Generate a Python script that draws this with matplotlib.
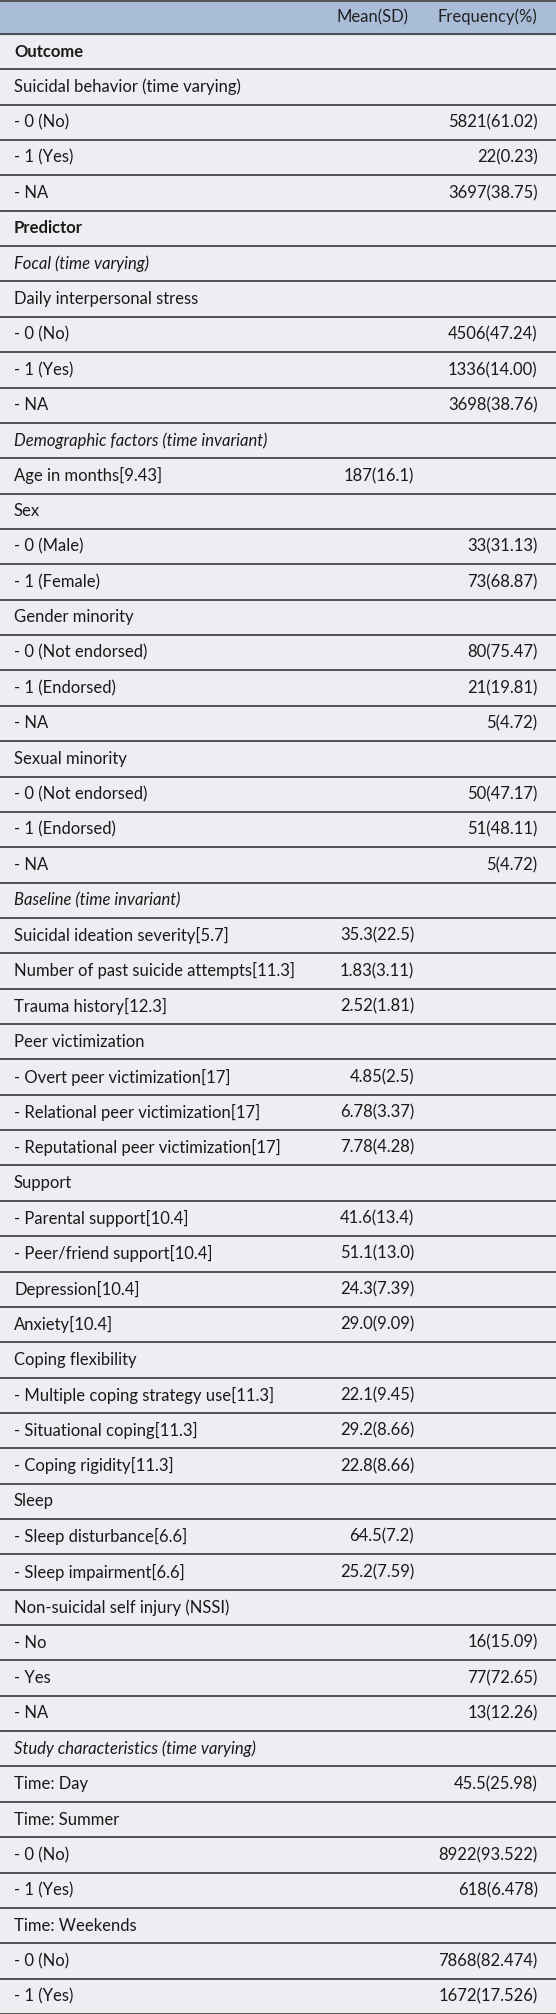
import matplotlib
matplotlib.use("Agg")
import matplotlib.pyplot as plt

labels = ["Outcome","Suicidal behavior (time varying)","- 0 (No)","- 1 (Yes)","- NA",
"Predictor","Focal (time varying)","Daily interpersonal stress","- 0 (No)","- 1 (Yes)","- NA",
"Demographic factors (time invariant)","Age in months[9.43]","Sex","- 0 (Male)","- 1 (Female)",
"Gender minority","- 0 (Not endorsed)","- 1 (Endorsed)","- NA",
"Sexual minority","- 0 (Not endorsed)","- 1 (Endorsed)","- NA",
"Baseline (time invariant)","Suicidal ideation severity[5.7]","Number of past suicide attempts[11.3]",
"Trauma history[12.3]","Peer victimization","- Overt peer victimization[17]",
"- Relational peer victimization[17]","- Reputational peer victimization[17]",
"Support","- Parental support[10.4]","- Peer/friend support[10.4]","Depression[10.4]","Anxiety[10.4]",
"Coping flexibility","- Multiple coping strategy use[11.3]","- Situational coping[11.3]","- Coping rigidity[11.3]",
"Sleep","- Sleep disturbance[6.6]","- Sleep impairment[6.6]",
"Non-suicidal self injury (NSSI)","- No","- Yes","- NA",
"Study characteristics (time varying)","Time: Day","Time: Summer","- 0 (No)","- 1 (Yes)",
"Time: Weekends","- 0 (No)","- 1 (Yes)"]
mean_sd = ["","","","","","","","","","","","","187(16.1)","","","","","","","","","","","",
"","35.3(22.5)","1.83(3.11)","2.52(1.81)","","4.85(2.5)","6.78(3.37)","7.78(4.28)",
"","41.6(13.4)","51.1(13.0)","24.3(7.39)","29.0(9.09)","","22.1(9.45)","29.2(8.66)","22.8(8.66)",
"","64.5(7.2)","25.2(7.59)","","","","","","","","","","","",""]
freq = ["","","5821(61.02)","22(0.23)","3697(38.75)","","","","4506(47.24)","1336(14.00)","3698(38.76)",
"","","","33(31.13)","73(68.87)","","80(75.47)","21(19.81)","5(4.72)","","50(47.17)","51(48.11)","5(4.72)",
"","","","","","","","","","","","","","","","","","","","","","16(15.09)","77(72.65)","13(12.26)",
"","45.5(25.98)","","8922(93.522)","618(6.478)","","7868(82.474)","1672(17.526)"]
bold = {"Outcome","Predictor"}
italic = {"Focal (time varying)","Demographic factors (time invariant)","Baseline (time invariant)",
          "Study characteristics (time varying)"}

W, H = 556, 2014
fig = plt.figure(figsize=(W/100, H/100), dpi=100)
fig.patch.set_facecolor("#eceef2")
ax = fig.add_axes([0, 0, 1, 1])
ax.set_xlim(0, W); ax.set_ylim(H, 0); ax.axis("off")

head_h = 34
n = len(labels)
rh = (H - head_h) / n
fam = "Lato"
fs = 12
ax.add_patch(plt.Rectangle((0, 0), W, head_h, color="#aabdd8", zorder=0))
ax.axhline(1, color="#555555", lw=1.5)
ax.text(0.735*W, head_h/2, "Mean(SD)", ha="right", va="center", fontsize=fs, family=fam, color="#222222")
ax.text(0.967*W, head_h/2, "Frequency(%)", ha="right", va="center", fontsize=fs, family=fam, color="#222222")
ax.axhline(head_h, color="#444444", lw=1.3)
for i, lab in enumerate(labels):
    y0 = head_h + i*rh
    yc = y0 + rh/2
    kw = dict(va="center", fontsize=fs, family=fam, color="#1a1a1a")
    ax.text(14, yc, lab, ha="left",
            fontweight="bold" if lab in bold else "normal",
            fontstyle="italic" if lab in italic else "normal", **kw)
    if mean_sd[i]:
        ax.text(0.745*W, yc, mean_sd[i], ha="right", **kw)
    if freq[i]:
        ax.text(0.967*W, yc, freq[i], ha="right", **kw)
    ax.axhline(y0 + rh, color="#444444", lw=1.3)
fig.savefig("out.png", dpi=100, facecolor=fig.get_facecolor())
